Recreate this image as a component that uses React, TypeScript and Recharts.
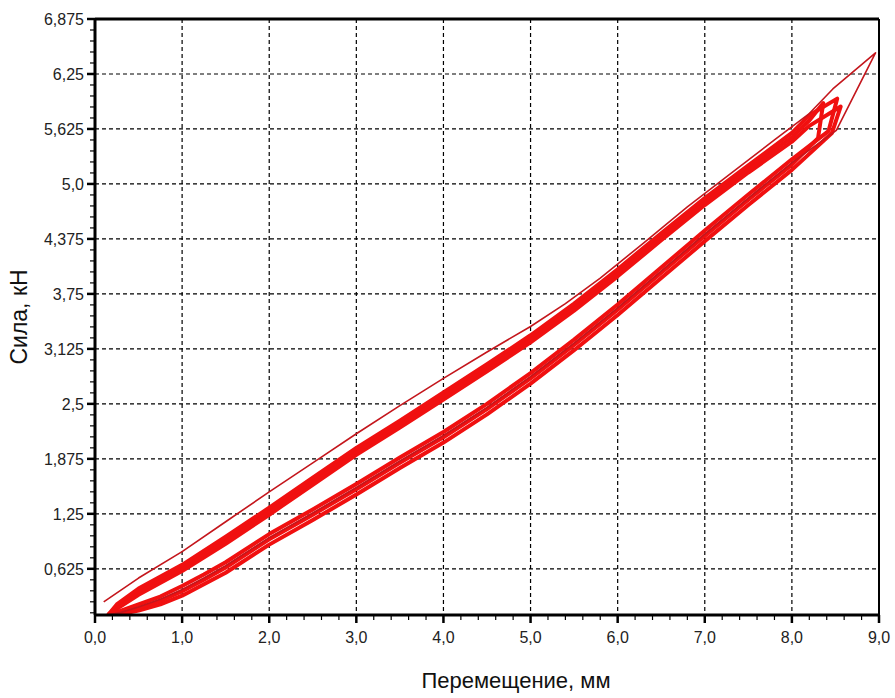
import { LineChart, Line, XAxis, YAxis, CartesianGrid, ReferenceLine } from 'recharts'

// axis ticks
const xMajorTicks = [0, 1, 2, 3, 4, 5, 6, 7, 8, 9]
const xTickLabels = ['0,0', '1,0', '2,0', '3,0', '4,0', '5,0', '6,0', '7,0', '8,0', '9,0']
const yMajorTicks = [0.625, 1.25, 1.875, 2.5, 3.125, 3.75, 4.375, 5.0, 5.625, 6.25, 6.875]
const yTickLabels = ['0,625', '1,25', '1,875', '2,5', '3,125', '3,75', '4,375', '5,0', '5,625', '6,25', '6,875']

// minor ticks: 0.2 mm and 0.125 kN
const xAllTicks = Array.from({ length: 46 }, (_, i) => +(i * 0.2).toFixed(1))
const yAllTicks = Array.from({ length: 55 }, (_, i) => (i + 1) * 0.125)

// first loading, thin line up to 9 mm
const firstLoadX = [0.1, 0.5, 1.0, 1.5, 2.0, 2.5, 3.0, 3.5, 4.0, 4.5, 5.0, 5.4, 5.8, 6.3, 6.8, 7.3, 7.8, 8.2, 8.47, 8.96]
const firstLoadY = [0.25, 0.52, 0.82, 1.16, 1.5, 1.83, 2.16, 2.48, 2.79, 3.09, 3.38, 3.64, 3.93, 4.33, 4.74, 5.12, 5.5, 5.8, 6.08, 6.49]
const firstUnloadX = [8.96, 8.51, 8.0, 7.5, 7.0, 6.5, 6.0, 5.5, 5.0, 4.5, 4.0, 3.5, 3.0, 2.5, 2.0, 1.5, 1.25, 1.0, 0.75, 0.5, 0.3, 0.15]
const firstUnloadY = [6.49, 5.61, 5.24, 4.84, 4.43, 4.01, 3.59, 3.19, 2.81, 2.46, 2.14, 1.85, 1.55, 1.26, 0.98, 0.66, 0.52, 0.39, 0.28, 0.19, 0.13, 0.1]

// repeated cycles, loading branch
const loadX = [0.15, 0.25, 0.5, 1.0, 1.5, 2.0, 2.5, 3.0, 3.5, 4.0, 4.5, 5.0, 5.5, 6.0, 6.5, 7.0, 7.5, 8.0, 8.2]
const loadAY = [0.1, 0.22, 0.4, 0.67, 0.99, 1.32, 1.66, 2.0, 2.31, 2.63, 2.95, 3.28, 3.64, 4.03, 4.44, 4.84, 5.21, 5.58, 5.78]
const loadBY = [0.1, 0.19, 0.37, 0.63, 0.95, 1.28, 1.62, 1.96, 2.27, 2.59, 2.91, 3.24, 3.6, 3.99, 4.4, 4.8, 5.17, 5.53, 5.72]
const loadCY = [0.1, 0.17, 0.33, 0.6, 0.91, 1.24, 1.58, 1.92, 2.23, 2.55, 2.87, 3.2, 3.56, 3.95, 4.36, 4.76, 5.13, 5.48, 5.66]

// peaks of the repeated cycles
const peakAX = [8.52, 8.42]
const peakAY = [5.97, 5.6]
const peakBX = [8.36, 8.3]
const peakBY = [5.92, 5.52]
const peakCX = [8.56, 8.46]
const peakCY = [5.88, 5.58]

// repeated cycles, unloading branch
const unloadX = [8.0, 7.5, 7.0, 6.5, 6.0, 5.5, 5.0, 4.5, 4.0, 3.5, 3.0, 2.5, 2.0, 1.5, 1.25, 1.0, 0.75, 0.5, 0.3, 0.15]
const unloadAY = [5.28, 4.88, 4.47, 4.05, 3.63, 3.23, 2.85, 2.5, 2.18, 1.89, 1.59, 1.3, 1.02, 0.7, 0.56, 0.43, 0.31, 0.22, 0.15, 0.1]
const unloadBY = [5.22, 4.82, 4.41, 3.99, 3.57, 3.17, 2.79, 2.44, 2.12, 1.83, 1.53, 1.24, 0.96, 0.64, 0.5, 0.37, 0.26, 0.18, 0.12, 0.1]
const unloadCY = [5.16, 4.76, 4.35, 3.93, 3.51, 3.11, 2.73, 2.38, 2.06, 1.77, 1.47, 1.18, 0.9, 0.58, 0.45, 0.32, 0.22, 0.15, 0.11, 0.1]

const pts = (xs: number[], ys: number[]) => xs.map((x, i) => ({ x, y: ys[i] }))

const firstCycle = [...pts(firstLoadX, firstLoadY), ...pts(firstUnloadX, firstUnloadY)]
const cycleA = [...pts(loadX, loadAY), ...pts(peakAX, peakAY), ...pts(unloadX, unloadAY)]
const cycleB = [...pts(loadX, loadBY), ...pts(peakBX, peakBY), ...pts(unloadX, unloadBY)]
const cycleC = [...pts(loadX, loadCY), ...pts(peakCX, peakCY), ...pts(unloadX, unloadCY)]

const FONT = '"Liberation Sans", Arial, sans-serif'
const RED = '#f01010'

function XTick({ x, y, payload }: any) {
  const i = xMajorTicks.indexOf(payload.value)
  const major = i >= 0
  return (
    <g>
      <line x1={x} x2={x} y1={y} y2={y + (major ? 8 : 5)} stroke="#000" strokeWidth={major ? 2.5 : 1.2} />
      {major && (
        <text x={x} y={y + 28} textAnchor="middle" fontSize={16} fill="#222" fontFamily={FONT}>
          {xTickLabels[i]}
        </text>
      )}
    </g>
  )
}

function YTick({ x, y, payload }: any) {
  const i = yMajorTicks.indexOf(payload.value)
  const major = i >= 0
  return (
    <g>
      <line x1={x - (major ? 8 : 5)} x2={x} y1={y} y2={y} stroke="#000" strokeWidth={major ? 2.5 : 1.2} />
      {major && (
        <text x={x - 11} y={y + 6} textAnchor="end" fontSize={16} fill="#222" fontFamily={FONT}>
          {yTickLabels[i]}
        </text>
      )}
    </g>
  )
}

export default function App() {
  return (
    <div style={{ position: 'absolute', left: 0, top: 0, width: 895, height: 698, background: '#fff' }}>
      <LineChart width={895} height={698} margin={{ top: 19, right: 16, bottom: 0, left: 0 }}>
        <CartesianGrid
          stroke="#000"
          strokeWidth={1.2}
          strokeDasharray="4 3"
          horizontalValues={yMajorTicks}
          verticalValues={xMajorTicks}
        />
        <XAxis
          type="number"
          dataKey="x"
          domain={[0, 9]}
          ticks={xAllTicks}
          interval={0}
          height={83}
          tickSize={0}
          tickMargin={0}
          tick={<XTick />}
          axisLine={{ stroke: '#000', strokeWidth: 3 }}
          allowDataOverflow
          label={{ value: 'Перемещение, мм', position: 'center', dx: 29, dy: 24, fontSize: 22, fill: '#111', fontFamily: FONT }}
        />
        <YAxis
          type="number"
          dataKey="y"
          domain={[0.1, 6.875]}
          ticks={yAllTicks}
          interval={0}
          width={95}
          tickSize={0}
          tickMargin={0}
          tick={<YTick />}
          axisLine={{ stroke: '#000', strokeWidth: 3 }}
          allowDataOverflow
          label={{ value: 'Сила, кН', angle: -90, position: 'center', dx: -29, fontSize: 23, fill: '#111', fontFamily: FONT }}
        />
        <ReferenceLine y={6.875} stroke="#000" strokeWidth={3} />
        <ReferenceLine x={9} stroke="#000" strokeWidth={2} />
        <Line data={cycleC} dataKey="y" type="linear" stroke={RED} strokeWidth={4} dot={false} isAnimationActive={false} strokeLinejoin="round" />
        <Line data={cycleB} dataKey="y" type="linear" stroke={RED} strokeWidth={4} dot={false} isAnimationActive={false} strokeLinejoin="round" />
        <Line data={cycleA} dataKey="y" type="linear" stroke={RED} strokeWidth={4} dot={false} isAnimationActive={false} strokeLinejoin="round" />
        <Line data={firstCycle} dataKey="y" type="linear" stroke="#c4161c" strokeWidth={1.6} dot={false} isAnimationActive={false} strokeLinejoin="round" />
      </LineChart>
    </div>
  )
}
